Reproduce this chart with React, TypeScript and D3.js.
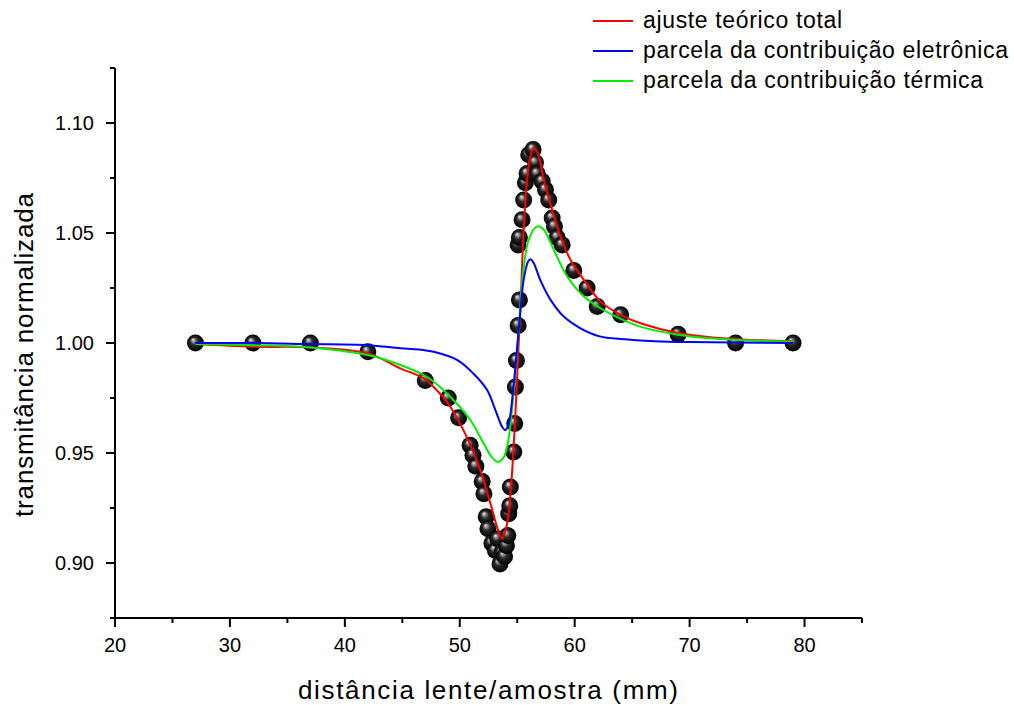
import React from "react";
import * as d3 from "d3";

// Measured data points (distance mm, normalized transmittance)
const dataX = [27, 32, 37, 42, 47, 49, 49.9, 50.9, 51.15, 51.4, 51.95, 52.1, 52.3, 52.45, 52.8, 53.1, 53.3, 53.5, 53.7, 53.9, 54.06, 54.18, 54.26, 54.35, 54.4, 54.7, 54.78, 54.84, 54.93, 55.08, 55.19, 55.08, 55.19, 55.42, 55.56, 55.71, 55.86, 56.0, 56.38, 56.59, 56.73, 57.17, 57.46, 57.74, 58.04, 58.24, 58.47, 58.91, 59.92, 61.08, 61.96, 64.0, 69.0, 74.0, 79.0];
const dataY = [1.0, 1.0, 1.0, 0.996, 0.983, 0.975, 0.966, 0.9535, 0.949, 0.944, 0.937, 0.9315, 0.921, 0.9156, 0.909, 0.9057, 0.911, 0.8996, 0.905, 0.903, 0.908, 0.9125, 0.9224, 0.926, 0.9345, 0.9505, 0.9634, 0.98, 0.992, 1.008, 1.0196, 1.0446, 1.048, 1.056, 1.065, 1.0728, 1.077, 1.0856, 1.088, 1.082, 1.077, 1.0735, 1.0697, 1.065, 1.0568, 1.053, 1.048, 1.0446, 1.033, 1.025, 1.0166, 1.0128, 1.004, 1.0, 1.0];

// Total theoretical fit (red)
const totalX = [27, 32, 37, 42, 44.83, 46.85, 47.73, 49.18, 50.63, 51.8, 52.67, 53.25, 53.69, 54.12, 54.5, 54.84, 55.13, 55.34, 55.56, 55.86, 56.15, 56.44, 56.87, 57.31, 58.04, 58.76, 59.63, 60.8, 62.25, 64, 66, 69, 72, 75, 79];
const totalY = [0.9995, 0.9983, 0.998, 0.9953, 0.9885, 0.984, 0.98, 0.971, 0.957, 0.942, 0.927, 0.9163, 0.911, 0.918, 0.9376, 0.968, 1.0, 1.024, 1.0515, 1.074, 1.085, 1.0887, 1.085, 1.074, 1.0606, 1.0484, 1.0378, 1.0287, 1.0188, 1.0128, 1.0085, 1.0045, 1.0025, 1.0015, 1.0008];

// Electronic contribution (blue)
const elecX = [27, 32, 37, 42, 44.83, 46.85, 47.73, 49.76, 51.2, 52.38, 53.1, 53.69, 53.97, 54.26, 54.7, 55.13, 55.56, 55.94, 56.15, 56.44, 57.0, 57.9, 59.05, 60.5, 62.25, 64, 67, 70, 74, 79];
const elecY = [1.0, 1.0, 0.9995, 0.999, 0.9976, 0.9968, 0.996, 0.9923, 0.986, 0.9786, 0.9695, 0.9619, 0.9604, 0.9634, 0.9816, 1.006, 1.0287, 1.037, 1.0381, 1.0363, 1.0287, 1.0196, 1.012, 1.0067, 1.0029, 1.0018, 1.0008, 1.0004, 1.0002, 1.0];

// Thermal contribution (green)
const thermX = [27, 32, 37, 42, 44.83, 46.85, 47.73, 49.47, 50.92, 52.08, 52.8, 53.3, 53.82, 54.26, 54.7, 55.13, 55.51, 56.0, 56.73, 57.31, 58.18, 59.35, 60.8, 62.25, 64, 66, 69, 72, 75, 79];
const thermY = [0.9995, 0.999, 0.998, 0.9945, 0.99, 0.9854, 0.9824, 0.974, 0.965, 0.9543, 0.948, 0.946, 0.948, 0.957, 0.9786, 1.006, 1.0318, 1.047, 1.053, 1.0515, 1.0424, 1.0302, 1.0211, 1.0158, 1.011, 1.007, 1.0038, 1.002, 1.0012, 1.0006];

const xTicks = [20, 30, 40, 50, 60, 70, 80];
const xMinor = [25, 35, 45, 55, 65, 75, 85];
const yTicks = [0.9, 0.95, 1.0, 1.05, 1.1];
const yMinor = [0.875, 0.925, 0.975, 1.025, 1.075, 1.125];

const legendLabels = ["ajuste teórico total", "parcela da contribuição eletrônica", "parcela da contribuição térmica"];
const legendColors = ["#ff0000", "#0000ff", "#00ee00"];
const legendWidths = [199, 365, 340];

const FONT = "Arial, 'Liberation Sans', sans-serif";

export default function App() {
  const W = 1014, H = 705;
  const left = 115, right = 862, top = 68, bottom = 618;
  const x = d3.scaleLinear().domain([20, 85]).range([left, right]);
  const y = d3.scaleLinear().domain([0.875, 1.125]).range([bottom, top]);

  const mkLine = (xs: number[], ys: number[]) =>
    d3.line<number>()
      .x((_, i) => x(xs[i]))
      .y((_, i) => y(ys[i]))
      .curve(d3.curveCatmullRom.alpha(0.5))(xs.map((_, i) => i)) || "";

  const curves = [
    { xs: totalX, ys: totalY, color: legendColors[0] },
    { xs: thermX, ys: thermY, color: legendColors[2] },
    { xs: elecX, ys: elecY, color: legendColors[1] },
  ];

  return (
    <svg width={W} height={H} style={{ position: "absolute", left: 0, top: 0, background: "#fff" }}>
      <defs>
        <radialGradient id="ball" cx="0.5" cy="0.5" r="0.5" fx="0.35" fy="0.3">
          <stop offset="0" stopColor="#f0f0f0" />
          <stop offset="0.18" stopColor="#9a9a9a" />
          <stop offset="0.45" stopColor="#2a2a2a" />
          <stop offset="1" stopColor="#000" />
        </radialGradient>
      </defs>
      <rect width={W} height={H} fill="#fff" />

      {/* axes */}
      <line x1={left} x2={left} y1={top} y2={bottom + 1} stroke="#000" strokeWidth={2} />
      <line x1={left - 1} x2={right} y1={bottom} y2={bottom} stroke="#000" strokeWidth={2} />
      {xTicks.map((t) => (
        <g key={"xt" + t}>
          <line x1={x(t)} x2={x(t)} y1={bottom} y2={bottom + 9} stroke="#000" strokeWidth={2} />
          <text x={x(t)} y={bottom + 34} textAnchor="middle" fontSize={20} fontFamily={FONT}>{t}</text>
        </g>
      ))}
      {xMinor.map((t) => (
        <line key={"xm" + t} x1={x(t)} x2={x(t)} y1={bottom} y2={bottom + 5} stroke="#000" strokeWidth={2} />
      ))}
      {yTicks.map((t) => (
        <g key={"yt" + t}>
          <line x1={left - 9} x2={left} y1={y(t)} y2={y(t)} stroke="#000" strokeWidth={2} />
          <text x={left - 21} y={y(t) + 7} textAnchor="end" fontSize={20} fontFamily={FONT}>{t.toFixed(2)}</text>
        </g>
      ))}
      {yMinor.map((t) => (
        <line key={"ym" + t} x1={left - 5} x2={left} y1={y(t)} y2={y(t)} stroke="#000" strokeWidth={2} />
      ))}

      {/* data points */}
      {dataX.map((dx, i) => (
        <circle key={"p" + i} cx={x(dx)} cy={y(dataY[i])} r={8.5} fill="url(#ball)" />
      ))}

      {/* curves */}
      {curves.map((c, i) => (
        <path key={"c" + i} d={mkLine(c.xs, c.ys)} fill="none" stroke={c.color} strokeWidth={2} />
      ))}

      {/* axis titles */}
      <text x={298} y={699} fontSize={26} fontFamily={FONT} textLength={380} lengthAdjust="spacing">distância lente/amostra (mm)</text>
      <text transform="translate(33,517) rotate(-90)" fontSize={26} fontFamily={FONT} textLength={324} lengthAdjust="spacing">transmitância normalizada</text>

      {/* legend */}
      {legendLabels.map((l, i) => (
        <g key={"lg" + i}>
          <line x1={593} x2={633} y1={21 + i * 30} y2={21 + i * 30} stroke={legendColors[i]} strokeWidth={2} />
          <text x={643} y={28 + i * 30} fontSize={23} fontFamily={FONT} textLength={legendWidths[i]} lengthAdjust="spacing">{l}</text>
        </g>
      ))}
    </svg>
  );
}
